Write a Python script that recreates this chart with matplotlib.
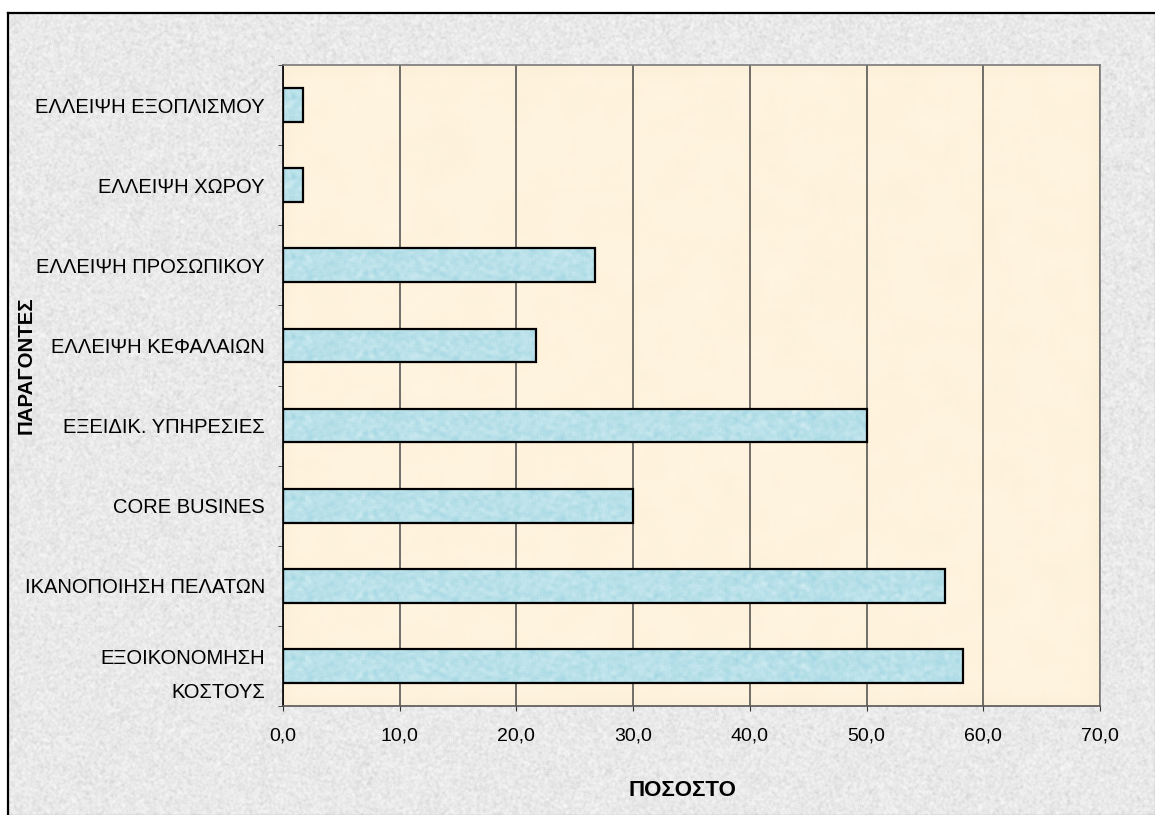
import numpy as np
import matplotlib
matplotlib.use("Agg")
import matplotlib.pyplot as plt
from matplotlib.ticker import FixedLocator, FuncFormatter

# factors (bottom to top) and share of answers in percent
factors = ["ΕΞΟΙΚΟΝΟΜΗΣΗ\nΚΟΣΤΟΥΣ", "ΙΚΑΝΟΠΟΙΗΣΗ ΠΕΛΑΤΩΝ", "CORE BUSINES",
           "ΕΞΕΙΔΙΚ. ΥΠΗΡΕΣΙΕΣ", "ΕΛΛΕΙΨΗ ΚΕΦΑΛΑΙΩΝ", "ΕΛΛΕΙΨΗ ΠΡΟΣΩΠΙΚΟΥ",
           "ΕΛΛΕΙΨΗ ΧΩΡΟΥ", "ΕΛΛΕΙΨΗ ΕΞΟΠΛΙΣΜΟΥ"]
percent = [58.3, 56.7, 30.0, 50.0, 21.7, 26.7, 1.7, 1.7]
xticks = [0, 10, 20, 30, 40, 50, 60, 70]

plt.rcParams['font.family'] = ['Liberation Sans', 'DejaVu Sans']

W, H = 1155, 815
fig = plt.figure(figsize=(W / 100, H / 100), dpi=100)
fig.patch.set_facecolor("white")


def speckle(h, w, seed, smooth=1):
    rng = np.random.default_rng(seed)
    n = rng.random((h, w))
    k = np.ones(smooth * 2 + 1) / (smooth * 2 + 1)
    n = np.apply_along_axis(lambda r: np.convolve(r, k, mode="same"), 1, n)
    n = np.apply_along_axis(lambda c: np.convolve(c, k, mode="same"), 0, n)
    n = (n - n.min()) / (n.max() - n.min())
    return n


# granite-like chart area background
bg = fig.add_axes([8 / W, 0, 1 - 8 / W, (H - 13) / H])
g = speckle(802, 1147, 1, smooth=1) ** 0.6
grey = 0.78 + 0.2 * g
bg.imshow(np.dstack([grey, grey, grey]), aspect="auto", interpolation="nearest")
bg.set_xticks([])
bg.set_yticks([])
for s in ["right", "bottom"]:
    bg.spines[s].set_visible(False)
for s in ["left", "top"]:
    bg.spines[s].set_linewidth(1.6)
    bg.spines[s].set_color("black")

ax = fig.add_axes([283 / W, (H - 706) / H, (1100 - 283) / W, (706 - 65) / H])

# parchment plot background
p = speckle(160, 200, 2, smooth=3)
paper = np.dstack([0.99 + 0.01 * p, 0.935 + 0.025 * p, 0.845 + 0.035 * p])
ax.imshow(paper, extent=(0, 70, -0.5, len(factors) - 0.5), aspect="auto",
          interpolation="bilinear", zorder=0)

ax.grid(axis="x", color="#4a4a4a", linewidth=1.1, zorder=1)

ypos = np.arange(len(factors))
bars = ax.barh(ypos, percent, height=0.42, facecolor="none",
               edgecolor="black", linewidth=1.6, zorder=4)

# watery texture inside the bars
t = speckle(40, 900, 3, smooth=2)
water = np.dstack([0.55 + 0.28 * t, 0.80 + 0.13 * t, 0.86 + 0.09 * t])
for b in bars:
    x0, y0, w, h = b.get_x(), b.get_y(), b.get_width(), b.get_height()
    im = ax.imshow(water[:, :max(2, int(w * 12))],
                   extent=(x0, x0 + w, y0, y0 + h),
                   aspect="auto", interpolation="bilinear", zorder=3)
    im.set_clip_path(b)

ax.set_xlim(0, 70)
ax.set_ylim(-0.5, len(factors) - 0.5)
ax.set_xticks(xticks)
ax.xaxis.set_major_formatter(FuncFormatter(lambda v, _: f"{v:.1f}".replace(".", ",")))
ax.set_yticks(ypos)
ax.set_yticklabels(factors, fontsize=14.5, linespacing=2.0, ha="right")
ax.yaxis.set_minor_locator(FixedLocator(np.arange(-0.5, len(factors), 1.0)))
ax.tick_params(axis="y", which="major", length=0, pad=13)
ax.tick_params(axis="y", which="minor", length=3.6, direction="out", color="#333333")
ax.tick_params(axis="x", length=3.6, direction="out", labelsize=14, pad=12, color="#333333")

for s in ["top", "right"]:
    ax.spines[s].set_color("#7a7a7a")
    ax.spines[s].set_linewidth(1.2)
ax.spines["bottom"].set_color("#555555")
ax.spines["bottom"].set_linewidth(1.2)
ax.spines["left"].set_color("black")
ax.spines["left"].set_linewidth(1.2)

fig.text(682 / W, 1 - 790 / H, "ΠΟΣΟΣΤΟ", fontsize=16, fontweight="bold",
         ha="center", va="center")
fig.text(26 / W, 1 - 365 / H, "ΠΑΡΑΓΟΝΤΕΣ", fontsize=14.7, fontweight="bold",
         rotation=90, ha="center", va="center")

fig.savefig("out.png", dpi=100)
